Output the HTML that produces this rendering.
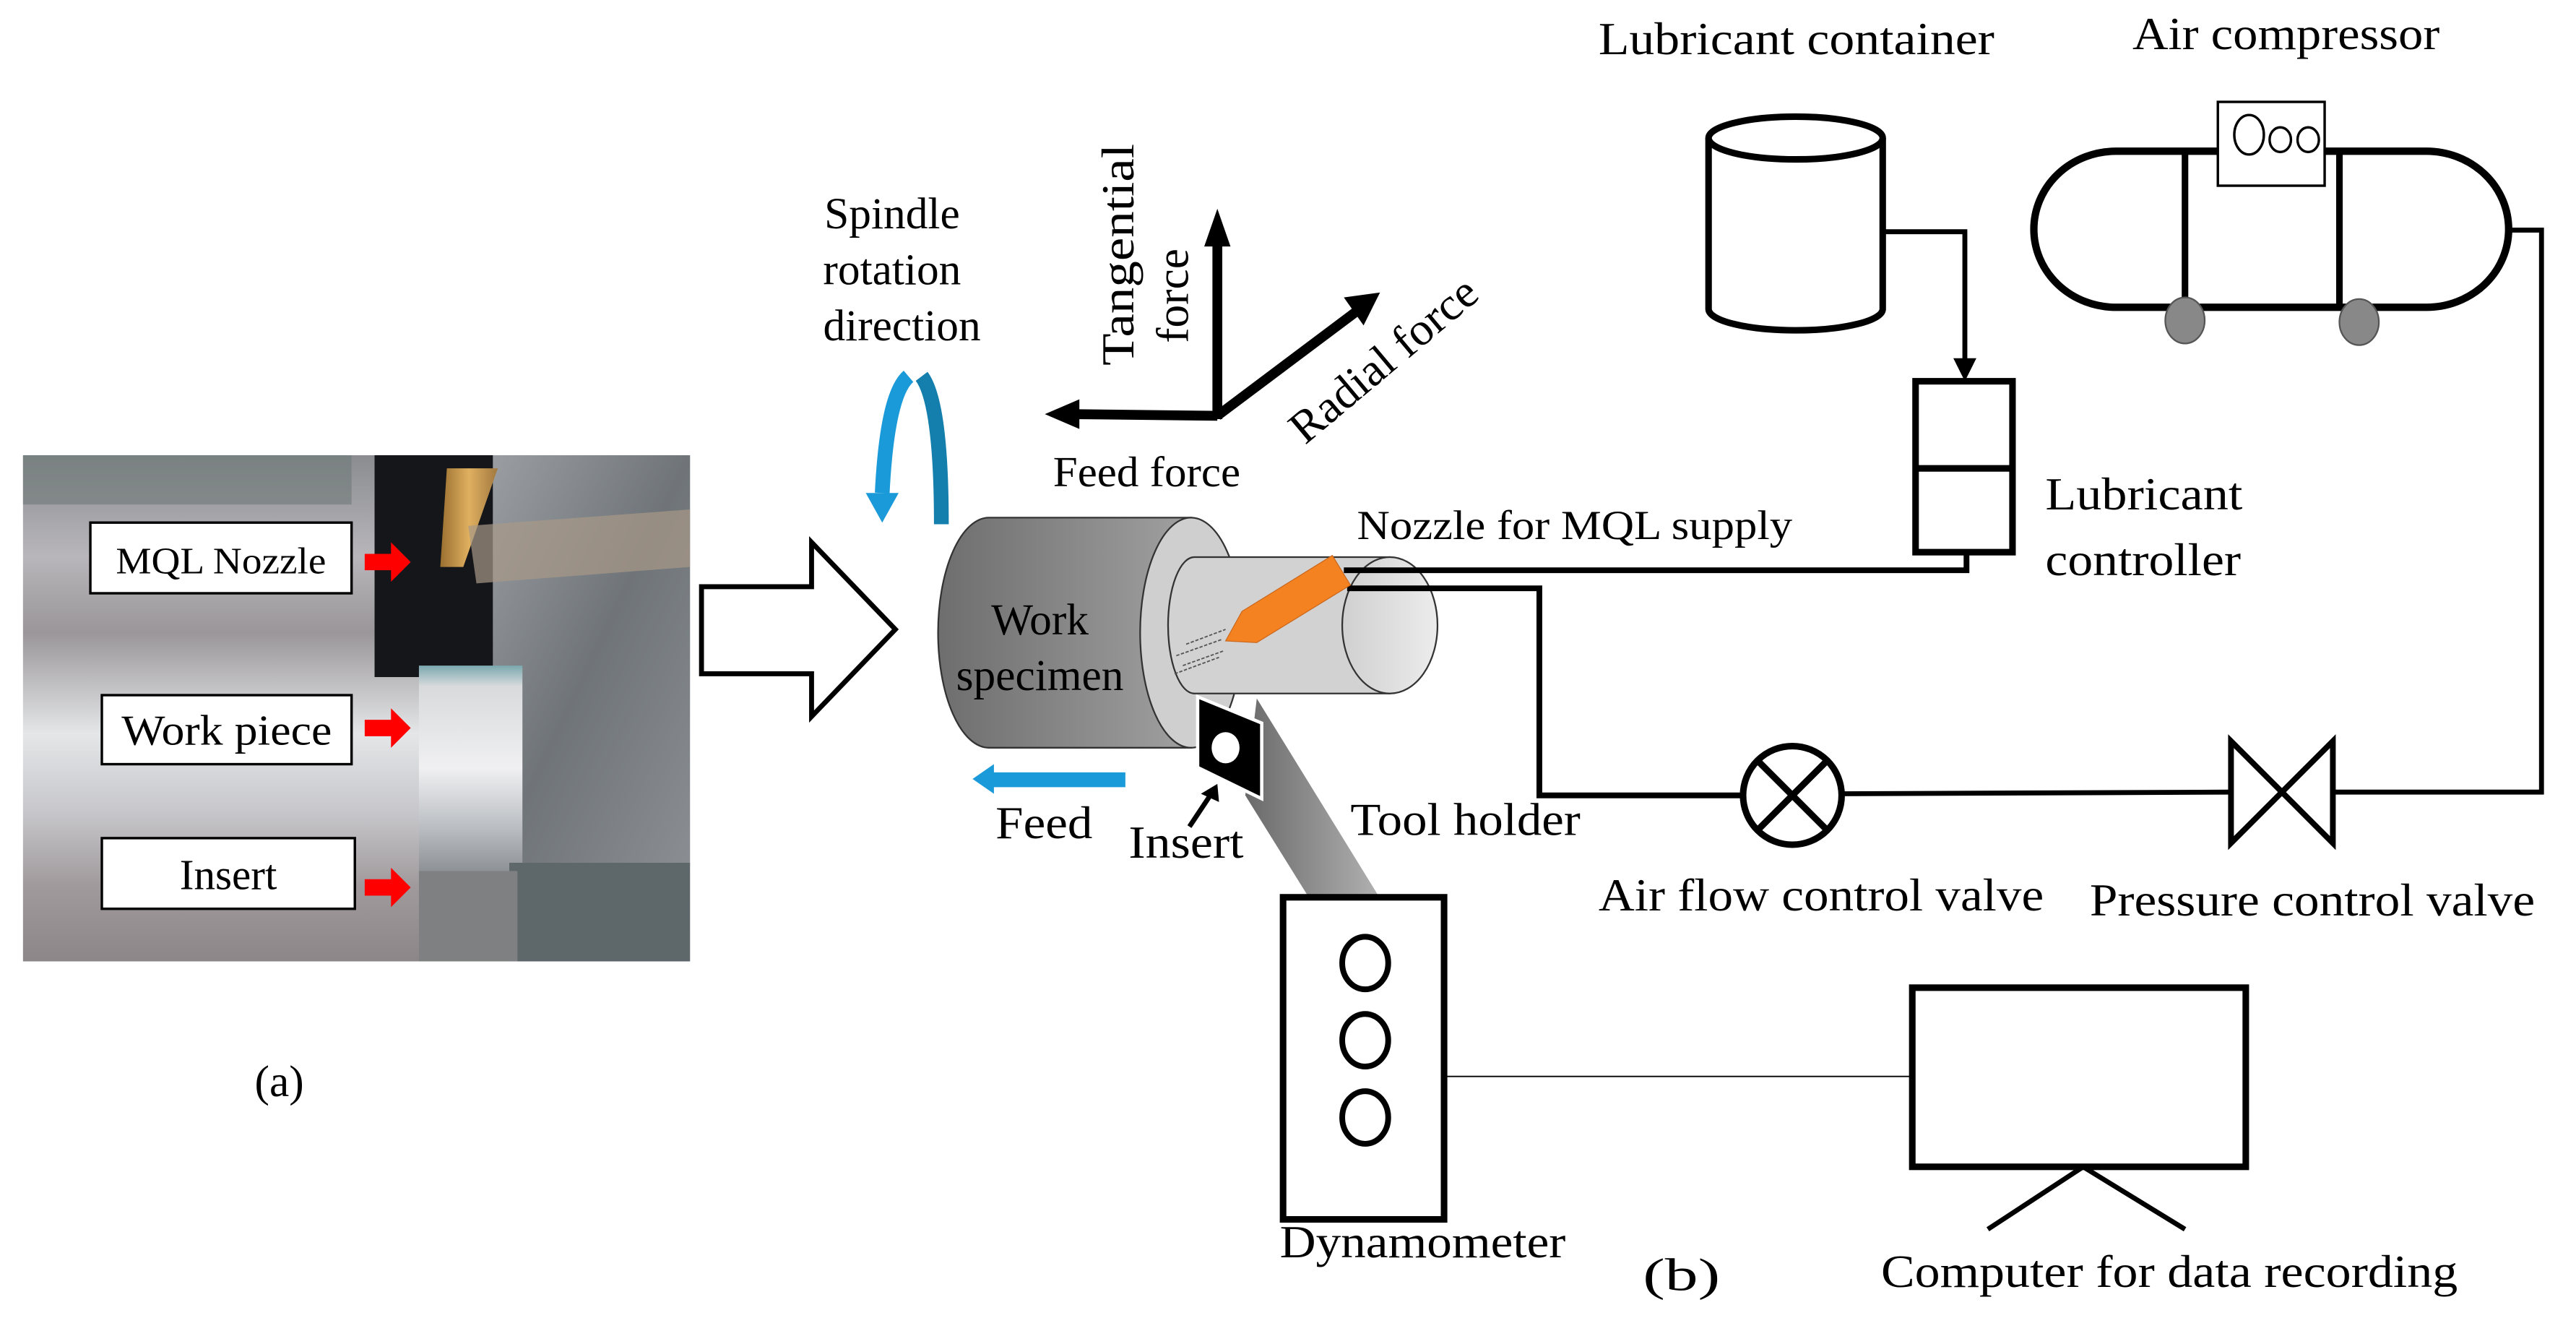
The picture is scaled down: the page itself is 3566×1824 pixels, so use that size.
<!DOCTYPE html>
<html><head><meta charset="utf-8"><style>
html,body{margin:0;padding:0;background:#fff}
svg{display:block;font-family:"Liberation Serif","Times New Roman",Times,serif}
svg text{font-family:"Liberation Serif","Times New Roman",Times,serif;fill:#000}
</style></head><body>
<svg width="3566" height="1824" viewBox="0 0 1568 802" preserveAspectRatio="none" xmlns="http://www.w3.org/2000/svg" font-family="Liberation Serif, Times New Roman, serif">
<defs>
<linearGradient id="silver" x1="0" y1="0" x2="0" y2="1">
<stop offset="0" stop-color="#8a8c90"/><stop offset="0.2" stop-color="#b8b6ba"/><stop offset="0.35" stop-color="#9a969a"/><stop offset="0.55" stop-color="#e4e6e8"/><stop offset="0.7" stop-color="#c8c8cc"/><stop offset="0.85" stop-color="#a09a9c"/><stop offset="1" stop-color="#8c8688"/>
</linearGradient>
<linearGradient id="wp" x1="0" y1="0" x2="0" y2="1">
<stop offset="0" stop-color="#7aa8ae"/><stop offset="0.1" stop-color="#d8dadc"/><stop offset="0.5" stop-color="#f0f0f2"/><stop offset="0.8" stop-color="#b8bcc0"/><stop offset="1" stop-color="#8e9296"/>
</linearGradient>
<linearGradient id="chips" x1="0" y1="0" x2="1" y2="1">
<stop offset="0" stop-color="#9a9ea2"/><stop offset="0.5" stop-color="#6f7478"/><stop offset="1" stop-color="#8a8e92"/>
</linearGradient>
<linearGradient id="gold" x1="0" y1="0" x2="1" y2="0">
<stop offset="0" stop-color="#9a7030"/><stop offset="0.5" stop-color="#e0b060"/><stop offset="1" stop-color="#a07840"/>
</linearGradient>
<linearGradient id="bigcyl" x1="0" y1="0" x2="1" y2="0">
<stop offset="0" stop-color="#6e6e6e"/><stop offset="1" stop-color="#a0a0a0"/>
</linearGradient>
<linearGradient id="bar" x1="0" y1="0" x2="1" y2="0">
<stop offset="0" stop-color="#6a6a6a"/><stop offset="1" stop-color="#b0b0b0"/>
</linearGradient>
<linearGradient id="face" x1="0" y1="0" x2="1" y2="0">
<stop offset="0" stop-color="#d0d0d0"/><stop offset="1" stop-color="#ececec"/>
</linearGradient>
</defs>

<!-- Photo (a) -->
<rect x="14" y="277" width="406" height="308" fill="url(#silver)"/>
<rect x="14" y="277" width="200" height="30" fill="#6f7a78" opacity="0.6"/>
<rect x="228" y="277" width="95" height="135" fill="#15161a"/>
<rect x="300" y="277" width="120" height="250" fill="url(#chips)"/>
<rect x="255" y="405" width="63" height="125" fill="url(#wp)"/>
<rect x="310" y="525" width="110" height="60" fill="#5e676a"/>
<rect x="255" y="530" width="60" height="55" fill="#7e8082"/>
<polygon points="272,285 303,285 282,345 268,345" fill="url(#gold)"/>
<polygon points="285,320 420,310 420,345 290,355" fill="#a89888" opacity="0.7"/>
<rect x="55" y="318" width="159" height="43" fill="#fff" stroke="#000" stroke-width="1.5"/>
<text x="134.5" y="349" font-size="23" text-anchor="middle" textLength="128" lengthAdjust="spacingAndGlyphs">MQL Nozzle</text>
<rect x="62" y="423" width="152" height="42" fill="#fff" stroke="#000" stroke-width="1.5"/>
<text x="138" y="453" font-size="26" text-anchor="middle" textLength="128" lengthAdjust="spacingAndGlyphs">Work piece</text>
<rect x="62" y="510" width="154" height="43" fill="#fff" stroke="#000" stroke-width="1.5"/>
<text x="139" y="541" font-size="26" text-anchor="middle">Insert</text>
<g fill="#f00">
<polygon points="222,337 238,337 238,330 250,342 238,354 238,347 222,347"/>
<polygon points="222,438 238,438 238,431 250,443 238,455 238,448 222,448"/>
<polygon points="222,535 238,535 238,528 250,540 238,552 238,545 222,545"/>
</g>
<text x="170" y="667" font-size="27" text-anchor="middle">(a)</text>

<!-- hollow arrow -->
<polygon points="427,357 494,357 494,330 545,383 494,436 494,410 427,410" fill="#fff" stroke="#000" stroke-width="3"/>

<!-- spindle label -->
<g font-size="27" text-anchor="middle">
<text x="543" y="139">Spindle</text>
<text x="543" y="173">rotation</text>
<text x="549" y="207">direction</text>
</g>
<!-- blue rotation arrow -->
<path d="M553,229 Q540,240 537,300" stroke="#1a9ad8" stroke-width="9" fill="none"/>
<polygon points="527,300 547,300 537,318" fill="#1a9ad8"/>
<path d="M561,229 Q573,245 573,319" stroke="#147eac" stroke-width="9" fill="none"/>

<!-- force axes -->
<g stroke="#000" stroke-width="6" fill="none">
<line x1="741" y1="255" x2="741" y2="145"/>
<line x1="741" y1="253" x2="652" y2="252"/>
<line x1="741" y1="253" x2="825" y2="190"/>
</g>
<polygon points="733,150 749,150 741,127" fill="#000"/>
<polygon points="657,243 657,261 636,252" fill="#000"/>
<polygon points="818,181 830,198 840,178" fill="#000"/>
<text x="698" y="296" font-size="26" text-anchor="middle" textLength="114" lengthAdjust="spacingAndGlyphs">Feed force</text>
<text transform="translate(690,155) rotate(-90)" font-size="28" text-anchor="middle" textLength="135" lengthAdjust="spacingAndGlyphs">Tangential</text>
<text transform="translate(723,180) rotate(-90)" font-size="28" text-anchor="middle">force</text>
<text transform="translate(848,226) rotate(-40)" font-size="28" text-anchor="middle" textLength="140" lengthAdjust="spacingAndGlyphs">Radial force</text>

<!-- big cylinder -->
<path d="M602,315 L725,315 L725,455 L602,455 A31,70 0 0 1 602,315 Z" fill="url(#bigcyl)" stroke="#333" stroke-width="1"/>
<ellipse cx="725" cy="385" rx="31" ry="70" fill="#cfcfcf" stroke="#333" stroke-width="1"/>
<text x="633" y="386" font-size="27" text-anchor="middle">Work</text>
<text x="633" y="420" font-size="27" text-anchor="middle">specimen</text>
<!-- small cylinder -->
<path d="M727,339 L846,339 L846,422 L727,422 A16,41.5 0 0 1 727,339 Z" fill="#d2d2d2" stroke="#333" stroke-width="1"/>
<ellipse cx="846" cy="380.5" rx="29" ry="41.5" fill="url(#face)" stroke="#333" stroke-width="1"/>
<g stroke="#555" stroke-width="0.8" stroke-dasharray="2,1">
<line x1="722" y1="392" x2="746" y2="383"/><line x1="716" y1="399" x2="744" y2="389"/><line x1="720" y1="405" x2="745" y2="396"/><line x1="715" y1="410" x2="742" y2="400"/>
</g>
<!-- pipes -->
<polyline points="818,347 1197,347 1197,336" fill="none" stroke="#000" stroke-width="3.5"/>
<polyline points="820,358 937,358 937,484 1061,484" fill="none" stroke="#000" stroke-width="3.5"/>
<!-- nozzle -->
<polygon points="746,390 756,372 811,338 822,356 765,391" fill="#f58220" stroke="#c9651a" stroke-width="0.5"/>
<text x="826" y="328" font-size="25" textLength="265" lengthAdjust="spacingAndGlyphs">Nozzle for MQL supply</text>

<!-- tool holder bar -->
<polygon points="765,425 839,545 796,545 758,484" fill="url(#bar)"/>
<!-- insert -->
<polygon points="729,424 768,440 768,486 729,467" fill="#000" stroke="#fff" stroke-width="2"/>
<ellipse cx="746" cy="455" rx="8.5" ry="9.5" fill="#fff"/>
<line x1="724" y1="503" x2="736" y2="485" stroke="#000" stroke-width="3"/>
<polygon points="731,483 742,488 741,477" fill="#000"/>
<!-- feed arrow -->
<polygon points="605,465 605,470 685,470 685,479 605,479 605,483 592,474" fill="#1a9ad8"/>
<text x="606" y="510" font-size="28" textLength="59" lengthAdjust="spacingAndGlyphs">Feed</text>
<text x="687" y="522" font-size="28" textLength="70" lengthAdjust="spacingAndGlyphs">Insert</text>
<text x="822" y="508" font-size="28" textLength="140" lengthAdjust="spacingAndGlyphs">Tool holder</text>

<!-- lubricant container -->
<text x="973" y="33" font-size="28" textLength="241" lengthAdjust="spacingAndGlyphs">Lubricant container</text>
<path d="M1040,84 L1040,188 A53,13 0 0 0 1146,188 L1146,84" fill="#fff" stroke="#000" stroke-width="4"/>
<ellipse cx="1093" cy="84" rx="53" ry="13" fill="#fff" stroke="#000" stroke-width="4"/>
<polyline points="1146,141 1196,141 1196,222" fill="none" stroke="#000" stroke-width="3"/>
<polygon points="1189,218 1203,218 1196,232" fill="#000"/>
<!-- lubricant controller -->
<rect x="1166" y="232" width="59" height="104" fill="#fff" stroke="#000" stroke-width="4"/>
<line x1="1166" y1="285" x2="1225" y2="285" stroke="#000" stroke-width="4"/>
<text x="1245" y="310" font-size="28" textLength="120" lengthAdjust="spacingAndGlyphs">Lubricant</text>
<text x="1245" y="350" font-size="28" textLength="119" lengthAdjust="spacingAndGlyphs">controller</text>

<!-- air compressor -->
<text x="1298" y="30" font-size="28" textLength="187" lengthAdjust="spacingAndGlyphs">Air compressor</text>
<path d="M1288,92 L1477,92 A50,47.5 0 0 1 1477,187 L1288,187 A50,47.5 0 0 1 1288,92 Z" fill="#fff" stroke="#000" stroke-width="4.5"/>
<line x1="1330" y1="92" x2="1330" y2="187" stroke="#000" stroke-width="4"/>
<line x1="1424" y1="92" x2="1424" y2="187" stroke="#000" stroke-width="4"/>
<rect x="1350" y="62" width="65" height="51" fill="#fff" stroke="#000" stroke-width="1.5"/>
<ellipse cx="1369" cy="82" rx="9" ry="12" fill="none" stroke="#000" stroke-width="1.5"/>
<ellipse cx="1388" cy="85" rx="6.5" ry="7.5" fill="none" stroke="#000" stroke-width="1.5"/>
<ellipse cx="1405" cy="85" rx="6.5" ry="7.5" fill="none" stroke="#000" stroke-width="1.5"/>
<ellipse cx="1330" cy="195" rx="12" ry="14" fill="#888" stroke="#555" stroke-width="1"/>
<ellipse cx="1436" cy="196" rx="12" ry="14" fill="#888" stroke="#555" stroke-width="1"/>
<polyline points="1527,140 1547,140 1547,482 1420,482" fill="none" stroke="#000" stroke-width="3"/>
<!-- pressure valve -->
<polygon points="1358,451 1420,513 1420,451 1358,513" fill="#fff" stroke="#000" stroke-width="3.5"/>
<line x1="1121" y1="483" x2="1358" y2="482" stroke="#000" stroke-width="3"/>
<!-- air flow valve -->
<circle cx="1091" cy="484" r="30" fill="#fff" stroke="#000" stroke-width="4"/>
<line x1="1070" y1="463" x2="1112" y2="505" stroke="#000" stroke-width="4"/>
<line x1="1112" y1="463" x2="1070" y2="505" stroke="#000" stroke-width="4"/>
<text x="973" y="554" font-size="28" textLength="271" lengthAdjust="spacingAndGlyphs">Air flow control valve</text>
<text x="1272" y="557" font-size="28" textLength="271" lengthAdjust="spacingAndGlyphs">Pressure control valve</text>

<!-- dynamometer -->
<rect x="781" y="546" width="98" height="196" fill="#fff" stroke="#000" stroke-width="4"/>
<ellipse cx="831" cy="586" rx="14" ry="16" fill="none" stroke="#000" stroke-width="3.5"/>
<ellipse cx="831" cy="633" rx="14" ry="16" fill="none" stroke="#000" stroke-width="3.5"/>
<ellipse cx="831" cy="680" rx="14" ry="16" fill="none" stroke="#000" stroke-width="3.5"/>
<line x1="880" y1="655" x2="1165" y2="655" stroke="#000" stroke-width="0.8"/>
<text x="779" y="765" font-size="28" textLength="174" lengthAdjust="spacingAndGlyphs">Dynamometer</text>
<!-- computer -->
<rect x="1164" y="601" width="203" height="109" fill="#fff" stroke="#000" stroke-width="4"/>
<polyline points="1210,748 1268,710 1330,748" fill="none" stroke="#000" stroke-width="3"/>
<text x="1000" y="785" font-size="28" textLength="47" lengthAdjust="spacingAndGlyphs">(b)</text>
<text x="1145" y="783" font-size="28" textLength="351" lengthAdjust="spacingAndGlyphs">Computer for data recording</text>
</svg>
</body></html>
